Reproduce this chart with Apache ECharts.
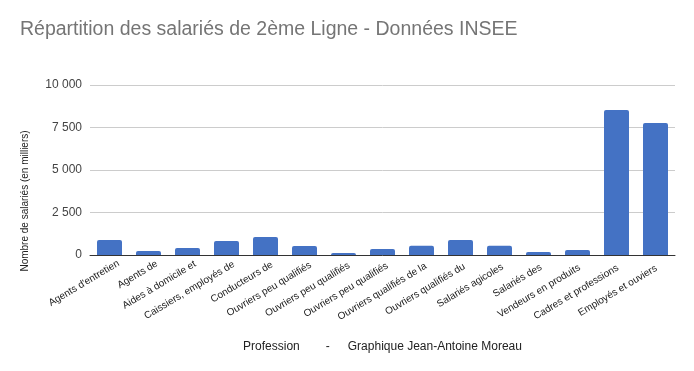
<!DOCTYPE html>
<html><head><meta charset="utf-8">
<script src="https://cdn.jsdelivr.net/npm/echarts@6/dist/echarts.min.js"></script>
<style>html,body{margin:0;padding:0;background:#fff}#c{width:694px;height:371px}</style>
</head><body><div id="c"></div>
<script>
const categories = [
  "Agents d'entretien", "Agents de", "Aides à domicile et", "Caissiers, employés de",
  "Conducteurs de", "Ouvriers peu qualifiés", "Ouvriers peu qualifiés", "Ouvriers peu qualifiés",
  "Ouvriers qualifiés de la", "Ouvriers qualifiés du", "Salariés agicoles", "Salariés des",
  "Vendeurs en produits", "Cadres et professions", "Employés et ouviers"
];
const salaries = [880, 235, 410, 825, 1060, 530, 120, 355, 550, 880, 550, 175, 295, 8530, 7765];
const yTicks = [0, 2500, 5000, 7500, 10000];
const yAxisTitle = 'Nombre de salariés (en milliers)';

// label styles: the reference's rotated labels drift slightly relative to the bars
const labelRich = {};
categories.forEach((c, i) => {
  labelRich['a' + i] = {fontFamily: 'Liberation Sans', fontSize: 10, color: '#222',
    padding: [0, -(10.5 - i * 0.68), 0, 0]};
});

const chart = echarts.init(document.getElementById('c'), null, {renderer: 'canvas'});
chart.setOption({
  animation: false,
  backgroundColor: '#fff',
  title: {
    text: 'Répartition des salariés de 2ème Ligne - Données INSEE',
    left: 15, top: 15,
    textStyle: {fontFamily: 'Liberation Sans', fontSize: 19.5, fontWeight: 'normal', color: '#757575'}
  },
  grid: {left: 90, right: 19, top: 85, bottom: 116, containLabel: false},
  graphic: [{
    type: 'text',
    x: 25, y: 201, rotation: Math.PI / 2,
    style: {text: yAxisTitle, fontFamily: 'Liberation Sans', fontSize: 10, fill: '#222',
      align: 'center', verticalAlign: 'middle'}
  }],
  xAxis: {
    type: 'category',
    data: categories,
    axisLine: {lineStyle: {color: '#333', width: 1}},
    axisTick: {show: false},
    axisLabel: {rotate: 31, interval: 0, margin: 13,
      formatter: (v, i) => '{a' + i + '|' + v + '}',
      rich: labelRich
    },
    name: 'Profession{g1|}-{g2|}Graphique Jean-Antoine Moreau',
    nameLocation: 'middle',
    nameGap: 86,
    nameTextStyle: {fontFamily: 'Liberation Sans', fontSize: 12, color: '#222',
      rich: {g1: {width: 26}, g2: {width: 18}}}
  },
  yAxis: {
    type: 'value',
    min: yTicks[0], max: yTicks[yTicks.length - 1], interval: 2500,
    axisLine: {show: false},
    axisTick: {show: false},
    splitLine: {lineStyle: {color: '#ccc', width: 1}},
    axisLabel: {
      fontFamily: 'Liberation Sans', fontSize: 12, color: '#444', margin: 8,
      formatter: v => String(v).replace(/\B(?=(\d{3})+(?!\d))/g, ' ')
    }
  },
  series: [{
    type: 'bar',
    data: salaries,
    barWidth: 25,
    itemStyle: {color: '#4472c4', borderRadius: [2, 2, 0, 0]}
  }]
});
</script></body></html>
